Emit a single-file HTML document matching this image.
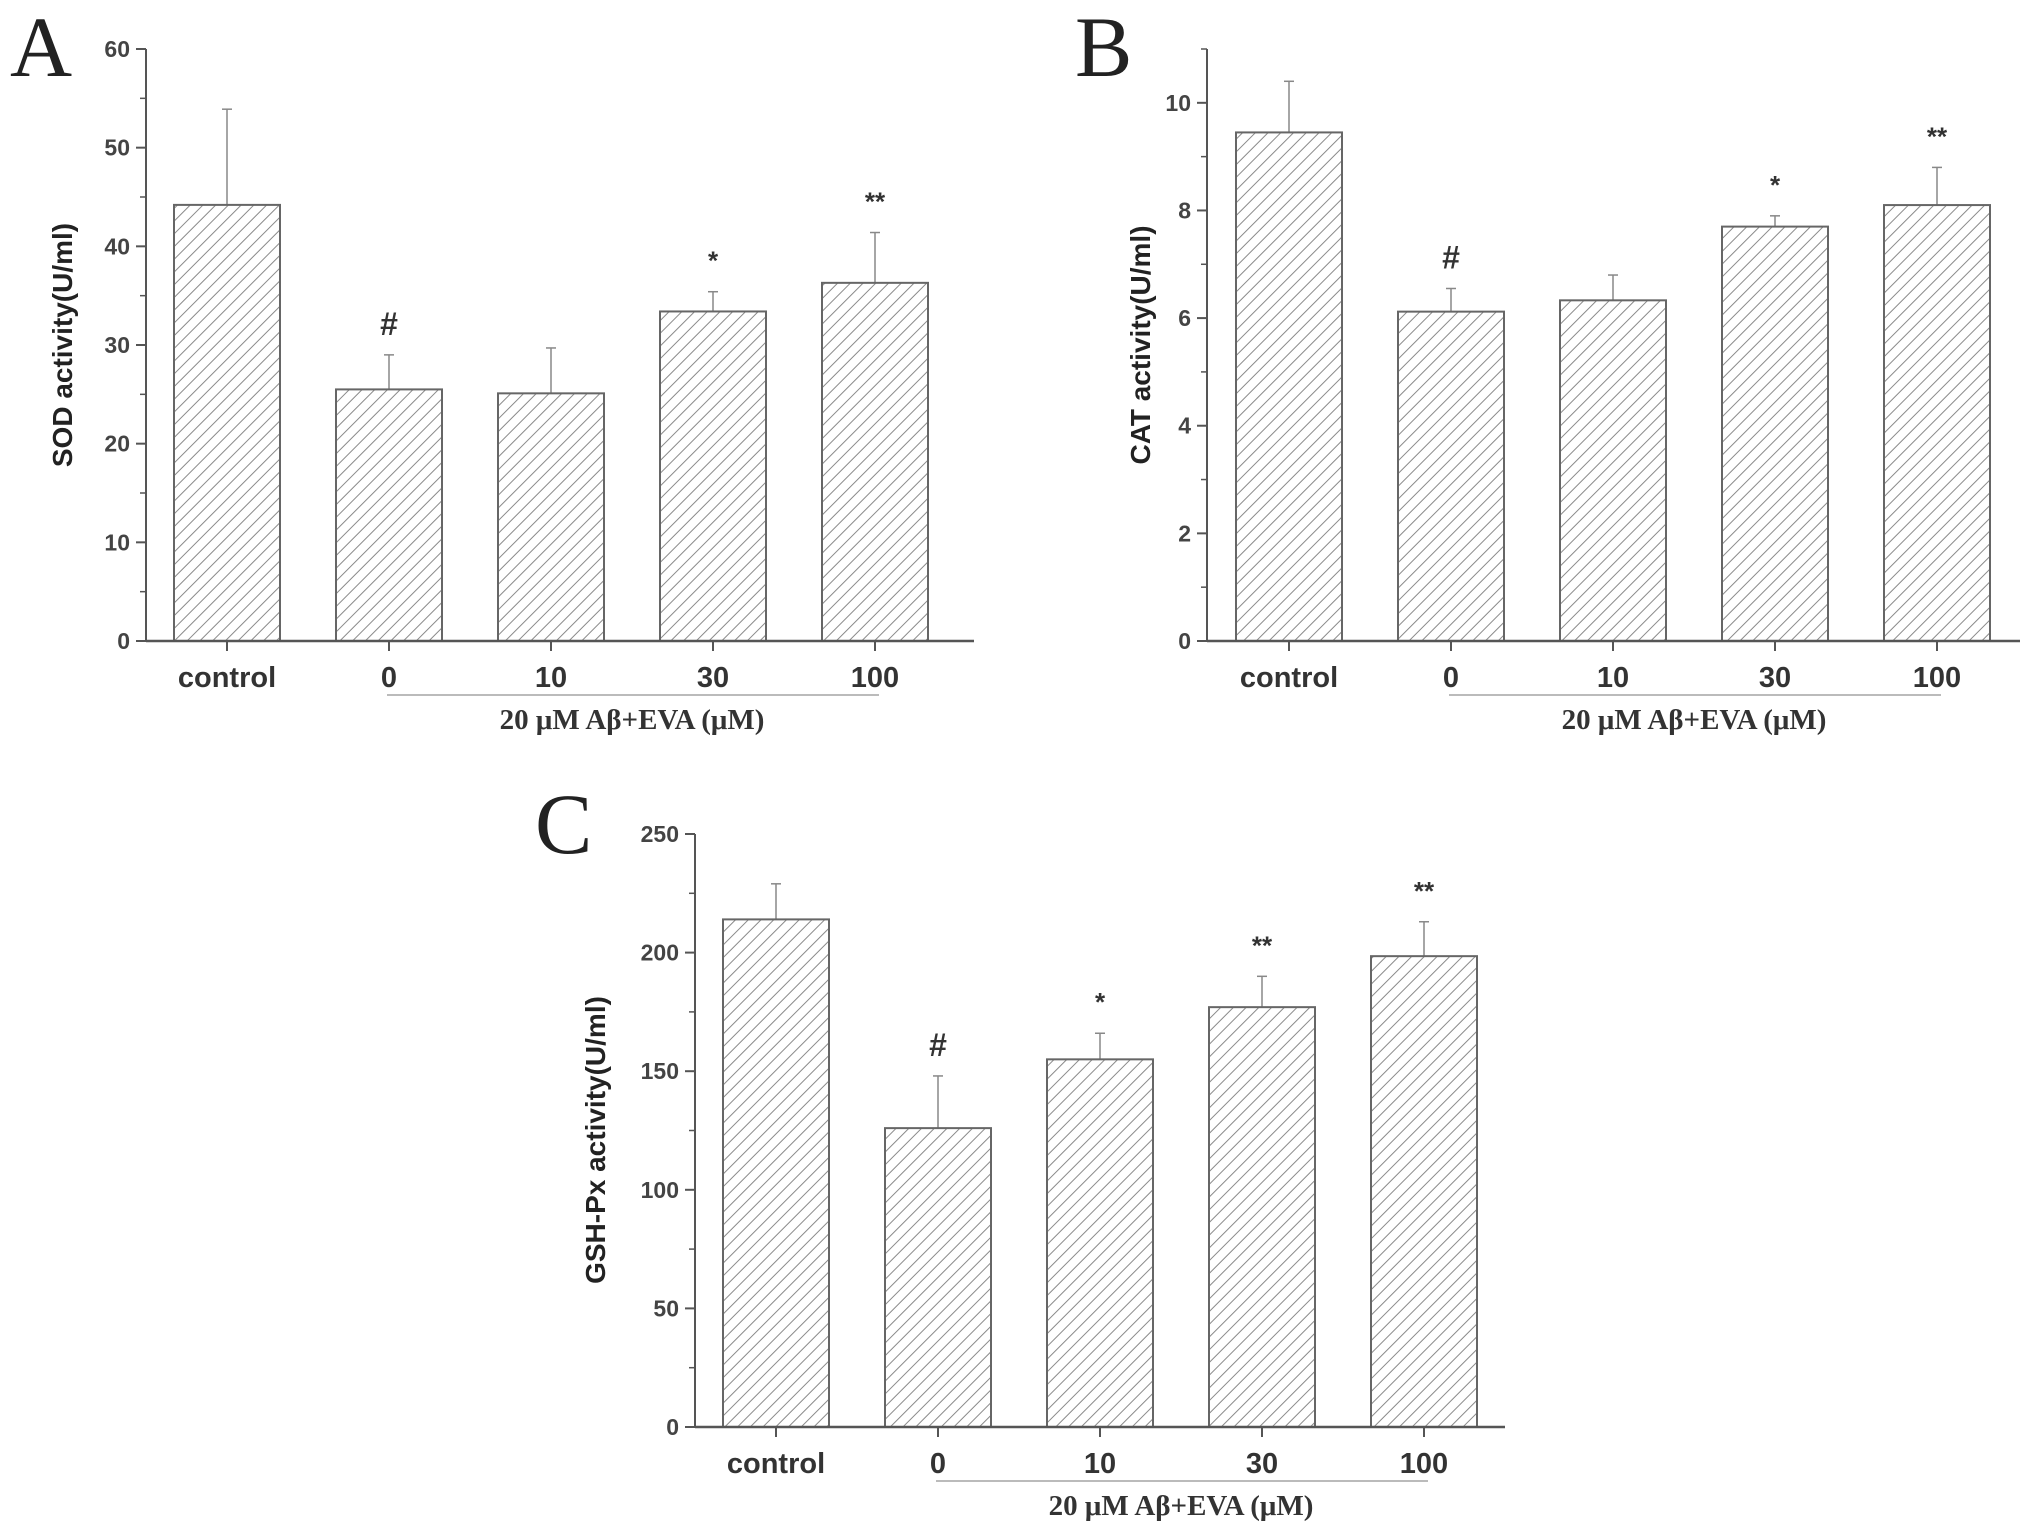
<!DOCTYPE html>
<html><head><meta charset="utf-8">
<style>
html,body{margin:0;padding:0;background:#fff;}
svg{display:block;}
text{font-family:"Liberation Sans",Arial,sans-serif;}
text.serif{font-family:"Liberation Serif","DejaVu Serif",serif;}
</style></head>
<body>
<svg id="fig" width="2031" height="1540" viewBox="0 0 2031 1540" xmlns="http://www.w3.org/2000/svg">
<defs>
<pattern id="hatch" patternUnits="userSpaceOnUse" width="9" height="9" patternTransform="rotate(45)">
<rect width="9" height="9" fill="#fff"/>
<line x1="0" y1="0" x2="0" y2="9" stroke="#8a8a8a" stroke-width="2"/>
</pattern>
</defs>
</svg>
<script>
const categories = ["control","0","10","30","100"];
const sodValues = [44.2, 25.5, 25.1, 33.4, 36.3];
const sodErrors = [9.7, 3.5, 4.6, 2.0, 5.1];
const sodMarks = ["", "#", "", "*", "**"];
const sodTicks = [0,10,20,30,40,50,60];
const catValues = [9.45, 6.12, 6.33, 7.7, 8.1];
const catErrors = [0.95, 0.43, 0.47, 0.2, 0.7];
const catMarks = ["", "#", "", "*", "**"];
const catTicks = [0,2,4,6,8,10];
const gshValues = [214, 126, 155, 177, 198.5];
const gshErrors = [15, 22, 11, 13, 14.5];
const gshMarks = ["", "#", "*", "**", "**"];
const gshTicks = [0,50,100,150,200,250];

const NS = "http://www.w3.org/2000/svg";
const svg = document.getElementById("fig");
function mk(tag, attrs, parent, txt){
  const e = document.createElementNS(NS, tag);
  for (const k in attrs) e.setAttribute(k, attrs[k]);
  if (txt !== undefined) e.textContent = txt;
  (parent||svg).appendChild(e);
  return e;
}

function panel(p){
  const g = mk("g", {});
  
  
  const y = v => p.y0 - (v - 0) / p.max * (p.y0 - p.yTop);
  const x = i => p.x0 + p.catStart + i * p.catStep;
  const lab = mk("text", {class:"serif", x:p.letterX, y:p.letterY, "font-size":86, fill:"#222"}, g, p.letter);
  
  
  p.values.forEach((v,i)=>{
    const cx = x(i), bw = 106;
    const err = mk("g", {}, g);
    
    
    const ye = y(v + p.errors[i]);
    mk("line", {x1:cx, x2:cx, y1:y(v), y2:ye, stroke:"#888", "stroke-width":1.5}, err);
    mk("line", {x1:cx-5, x2:cx+5, y1:ye, y2:ye, stroke:"#888", "stroke-width":1.5}, err);
    const r = mk("rect", {x:cx-bw/2, y:y(v), width:bw, height:p.y0-y(v), fill:"url(#hatch)", stroke:"#666", "stroke-width":2}, g);
    
    
    if (p.marks[i]) {
      const isHash = p.marks[i] === "#";
      const t = mk("text", {x:cx, y:ye - (isHash ? 20 : 22), "text-anchor":"middle", "font-size": isHash ? 32 : 26, "font-weight":"bold", fill:"#333"}, g, p.marks[i]);
      
      
    }
    mk("line", {x1:cx, x2:cx, y1:p.y0, y2:p.y0+10, stroke:"#555", "stroke-width":2}, g);
    const cl = mk("text", {x:cx, y:p.y0+46, "text-anchor":"middle", "font-size":29, "font-weight":"bold", fill:"#333"}, g, categories[i]);
    
    
  });
  const ax = mk("line", {x1:p.x0, x2:p.x0, y1:p.yTop, y2:p.y0, stroke:"#555", "stroke-width":2}, g);
  
  
  const xa = mk("line", {x1:p.x0, x2:p.xEnd, y1:p.y0, y2:p.y0, stroke:"#555", "stroke-width":2.5}, g);
  
  
  p.ticks.forEach((t,i)=>{
    mk("line", {x1:p.x0-10, x2:p.x0, y1:y(t), y2:y(t), stroke:"#555", "stroke-width":2}, g);
    const tl = mk("text", {x:p.x0-16, y:y(t)+8, "text-anchor":"end", "font-size":23, "font-weight":"bold", fill:"#444"}, g, t);
    
    
    if (i < p.ticks.length-1) {
      const m = (t + p.ticks[i+1]) / 2;
      mk("line", {x1:p.x0-6, x2:p.x0, y1:y(m), y2:y(m), stroke:"#555", "stroke-width":1.5}, g);
    }
  });
  if (p.extraMinor !== undefined) mk("line", {x1:p.x0-6, x2:p.x0, y1:y(p.extraMinor), y2:y(p.extraMinor), stroke:"#555", "stroke-width":1.5}, g);
  const yt = mk("text", {x:0, y:0, transform:`translate(${p.titleX},${p.titleY}) rotate(-90)`, "text-anchor":"middle", "font-size":28, "font-weight":"bold", fill:"#222"}, g, p.title);
  
  
  const ul = mk("line", {x1:x(1)-2, x2:x(4)+4, y1:p.y0+54, y2:p.y0+54, stroke:"#bbb", "stroke-width":2}, g);
  
  
  const st = mk("text", {class:"serif", x:(x(1)+x(4))/2, y:p.y0+88, "text-anchor":"middle", "font-size":29, "font-weight":"bold", fill:"#333"}, g, "20 μM Aβ+EVA  (μM)");
  
  
}

panel({name:"panel-a-sod", letter:"A", letterX:10, letterY:76, x0:146, xEnd:974, y0:641, yTop:49, max:60, catStart:81, catStep:162,
  values:sodValues, errors:sodErrors, marks:sodMarks, ticks:sodTicks, title:"SOD activity(U/ml)", titleX:72, titleY:345});
panel({name:"panel-b-cat", letter:"B", letterX:1075, letterY:76, x0:1207, xEnd:2020, y0:641, yTop:49, max:11, catStart:82, catStep:162,
  values:catValues, errors:catErrors, marks:catMarks, ticks:catTicks, extraMinor:11, title:"CAT activity(U/ml)", titleX:1150, titleY:345});
panel({name:"panel-c-gsh", letter:"C", letterX:535, letterY:853, x0:695, xEnd:1505, y0:1427, yTop:834, max:250, catStart:81, catStep:162,
  values:gshValues, errors:gshErrors, marks:gshMarks, ticks:gshTicks, title:"GSH-Px activity(U/ml)", titleX:605, titleY:1140});
</script>
</body></html>
